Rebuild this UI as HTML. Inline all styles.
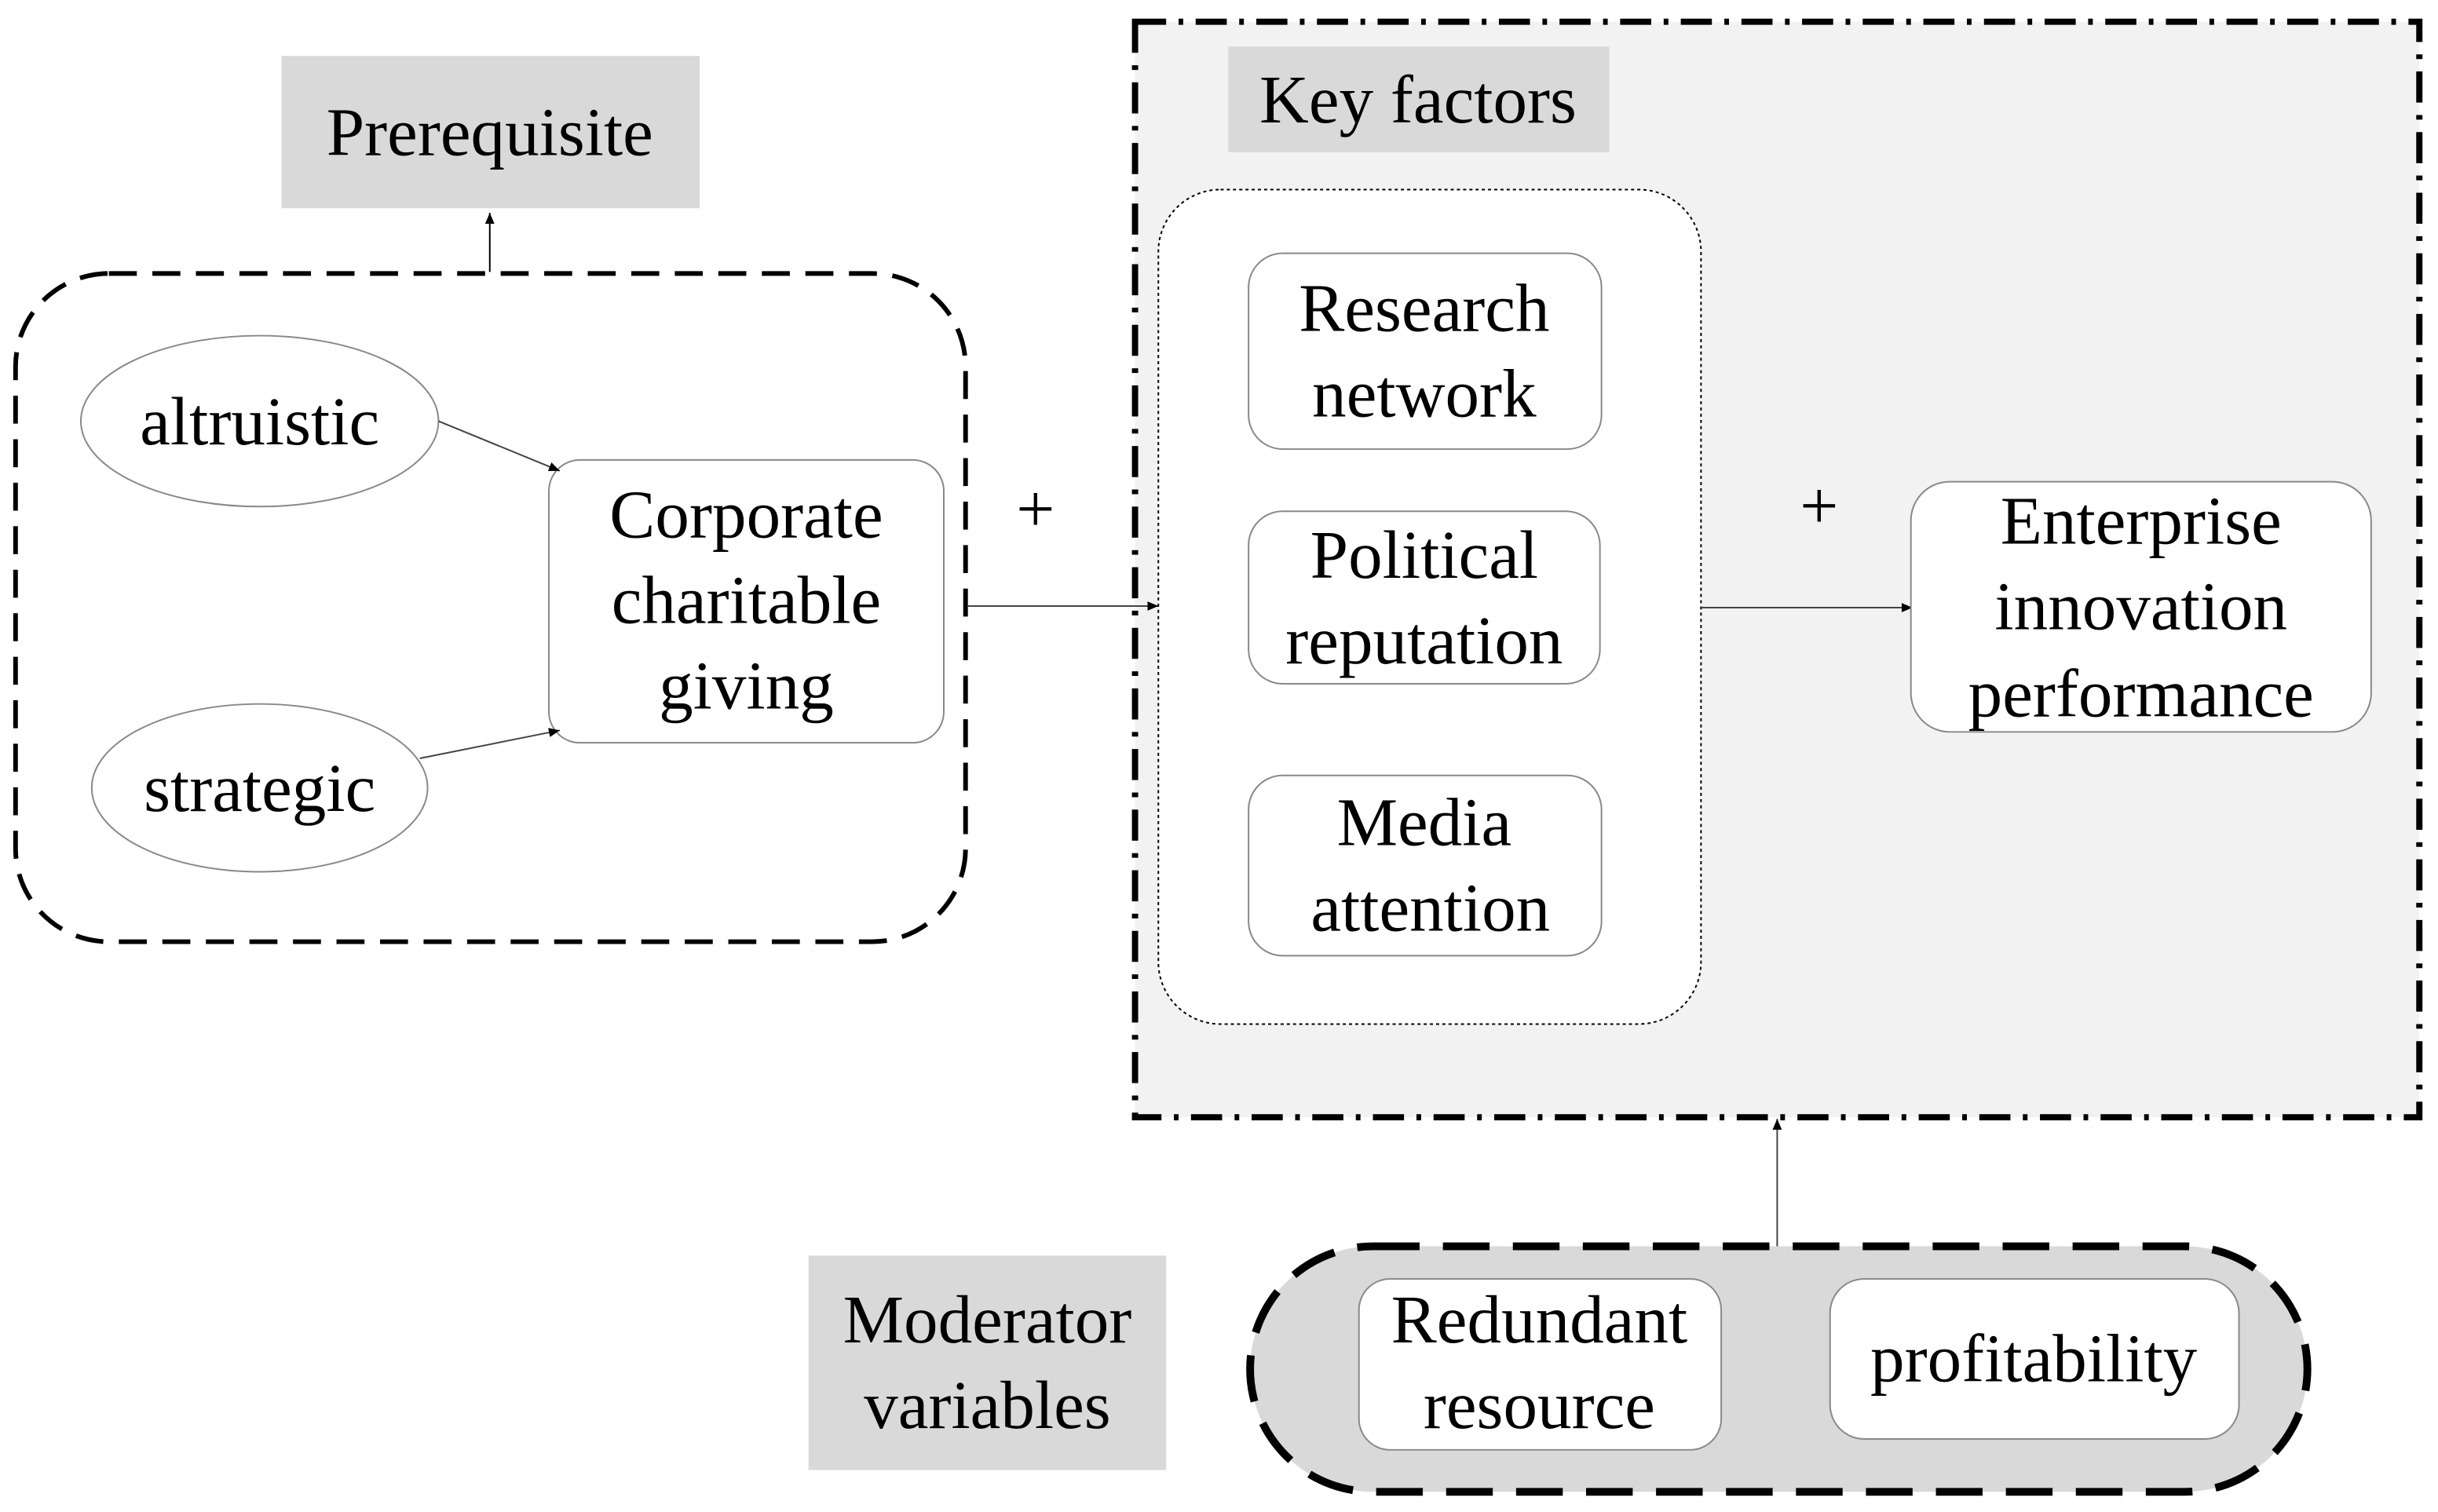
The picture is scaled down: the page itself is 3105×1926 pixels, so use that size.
<!DOCTYPE html>
<html><head><meta charset="utf-8"><style>
html,body{margin:0;padding:0;background:#fff;}
svg{display:block;}
text{font-family:"Liberation Serif",serif;font-size:44px;fill:#000;text-anchor:middle;dominant-baseline:central;}
</style></head><body>
<svg width="3105" height="1926" viewBox="0 0 1568 973" preserveAspectRatio="none" xmlns="http://www.w3.org/2000/svg">
<defs><marker id="a" markerWidth="8" markerHeight="8" refX="7" refY="4" orient="auto" markerUnits="userSpaceOnUse"><path d="M0,1 L7,4 L0,7 z" fill="#000"/></marker></defs>
<rect x="181" y="36" width="269" height="98" fill="#d9d9d9"/>
<text x="315" y="85">Prerequisite</text>
<line x1="315" y1="175" x2="315" y2="137" stroke="#000" stroke-width="1" marker-end="url(#a)"/>
<rect x="10" y="176" width="611" height="430" rx="60" fill="none" stroke="#000" stroke-width="3" stroke-dasharray="18 10"/>
<ellipse cx="167" cy="271" rx="115" ry="55" fill="#fff" stroke="#888" stroke-width="1"/>
<text x="167" y="271">altruistic</text>
<ellipse cx="167" cy="507" rx="108" ry="54" fill="#fff" stroke="#888" stroke-width="1"/>
<text x="167" y="507">strategic</text>
<rect x="353" y="296" width="254" height="182" rx="20" fill="#fff" stroke="#888" stroke-width="1"/>
<text x="480" y="331">Corporate</text><text x="480" y="386">charitable</text><text x="480" y="441">giving</text>
<line x1="282" y1="271" x2="360" y2="303" stroke="#444" stroke-width="1" marker-end="url(#a)"/>
<line x1="270" y1="488" x2="360" y2="470" stroke="#444" stroke-width="1" marker-end="url(#a)"/>
<text x="666" y="327">+</text>
<rect x="730" y="14" width="826" height="705" fill="#f2f2f2" stroke="#000" stroke-width="4" stroke-dasharray="20 8 3 8"/>
<rect x="790" y="30" width="245" height="68" fill="#d9d9d9"/>
<text x="912" y="64">Key factors</text>
<line x1="622" y1="390" x2="745" y2="390" stroke="#444" stroke-width="1" marker-end="url(#a)"/>
<rect x="745" y="122" width="349" height="537" rx="40" fill="#fff" stroke="#000" stroke-width="1" stroke-dasharray="2 2"/>
<rect x="803" y="163" width="227" height="126" rx="22" fill="#fff" stroke="#888" stroke-width="1"/>
<text x="916" y="198">Research</text><text x="916" y="253">network</text>
<rect x="803" y="329" width="226" height="111" rx="22" fill="#fff" stroke="#888" stroke-width="1"/>
<text x="916" y="357">Political</text><text x="916" y="412">reputation</text>
<rect x="803" y="499" width="227" height="116" rx="22" fill="#fff" stroke="#888" stroke-width="1"/>
<text x="916" y="529">Media</text><text x="920" y="584">attention</text>
<text x="1170" y="325">+</text>
<line x1="1094" y1="391" x2="1230" y2="391" stroke="#444" stroke-width="1" marker-end="url(#a)"/>
<rect x="1229" y="310" width="296" height="161" rx="25" fill="#fff" stroke="#888" stroke-width="1"/>
<text x="1377" y="335">Enterprise</text><text x="1377" y="390">innovation</text><text x="1377" y="446">performance</text>
<line x1="1143" y1="802" x2="1143" y2="720" stroke="#444" stroke-width="1" marker-end="url(#a)"/>
<rect x="520" y="808" width="230" height="138" fill="#d9d9d9"/>
<text x="635" y="849">Moderator</text><text x="635" y="904">variables</text>
<rect x="804" y="802" width="680" height="158" rx="79" fill="#d9d9d9" stroke="#000" stroke-width="5" stroke-dasharray="30 15"/>
<rect x="874" y="823" width="233" height="110" rx="20" fill="#fff" stroke="#888" stroke-width="1"/>
<text x="990" y="849">Redundant</text><text x="990" y="904">resource</text>
<rect x="1177" y="823" width="263" height="103" rx="22" fill="#fff" stroke="#888" stroke-width="1"/>
<text x="1308" y="874">profitability</text>
</svg>
</body></html>
